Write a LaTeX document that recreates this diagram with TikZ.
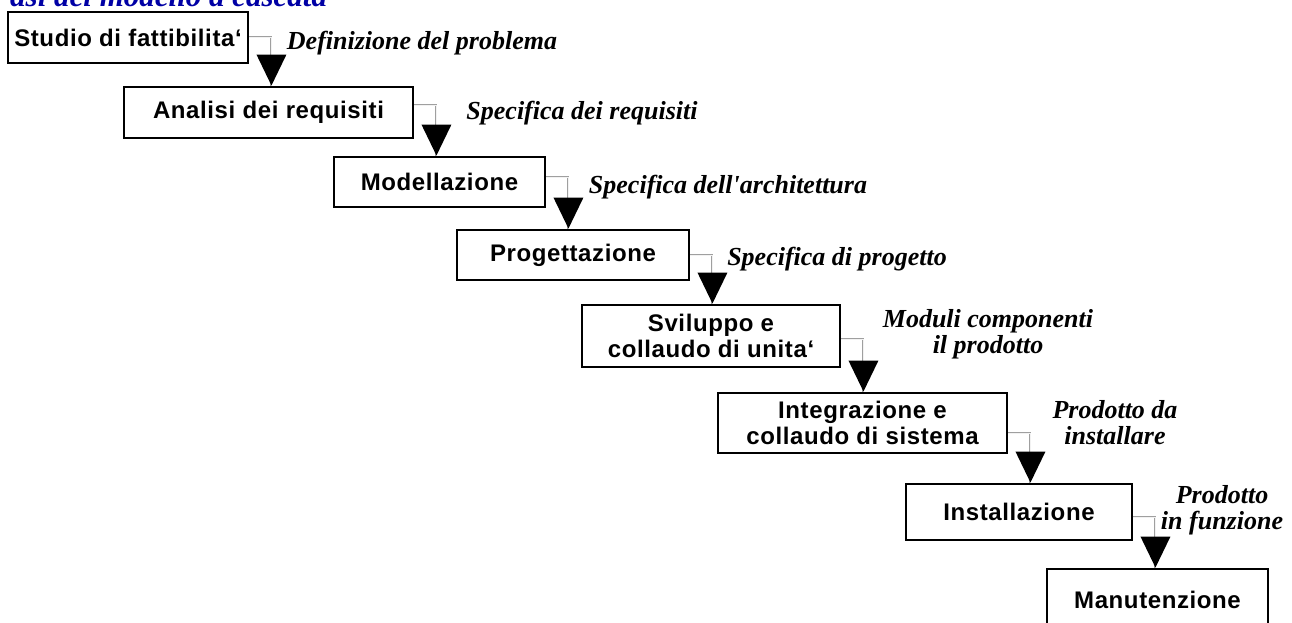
\documentclass[tikz,border=0pt]{standalone}
\usepackage{fontspec}
\setmainfont{Liberation Serif}
\newfontfamily\boxfamily{Liberation Sans}[LetterSpace=2.5]
\newfontfamily\labelfamily{Liberation Serif}
\usetikzlibrary{calc}
\definecolor{titleblue}{RGB}{0,0,165}
\begin{document}
\begin{tikzpicture}[x=1pt,y=-1pt,
  phase/.style={draw=black, line width=2.9pt, fill=white, inner sep=0pt, align=center,
    font=\boxfamily\bfseries\fontsize{24}{26}\selectfont},
  product/.style={inner sep=0pt, align=center,
    font=\labelfamily\bfseries\itshape\fontsize{26}{26}\selectfont},
  link/.style={draw=gray!75, line width=0.6pt, double=gray!10, double distance=0.8pt},
  tip/.style={fill=black}]
\useasboundingbox (0,0) rectangle (1292,623);
\clip (0,0) rectangle (1292,623);
\fill[white] (0,0) rectangle (1292,623);

% heading, partly above the top edge
\node[anchor=base west, inner sep=0pt, text=titleblue,
  font=\labelfamily\bfseries\itshape\fontsize{31}{31}\selectfont] (title) at (10,7) {asi del modello a cascata};

% the phases
\node[phase, minimum width=240pt, minimum height=51pt] (b1) at (128,37.5) {Studio di fattibilita‘};
\node[phase, minimum width=289pt, minimum height=51pt] (b2) at (268.5,112.5) {Analisi dei requisiti};
\node[phase, minimum width=211pt, minimum height=50pt] (b3) at (439.5,182) {Modellazione};
\node[phase, minimum width=232pt, minimum height=50pt] (b4) at (573,255) {Progettazione};
\node[phase, minimum width=258pt, minimum height=62pt] (b5) at (711,336) {Sviluppo e\\collaudo di unita‘};
\node[phase, minimum width=289pt, minimum height=60pt] (b6) at (862.5,423) {Integrazione e\\collaudo di sistema};
\node[phase, minimum width=226pt, minimum height=56pt] (b7) at (1019,512) {Installazione};
\node[phase, minimum width=221pt, minimum height=62pt] (b8) at (1157.5,600) {Manutenzione};

% what each phase hands on
\node[product] (p1) at (422,43) {Definizione del problema};
\node[product] (p2) at (582,113) {Specifica dei requisiti};
\node[product] (p3) at (728,187) {Specifica dell'architettura};
\node[product] (p4) at (837,259) {Specifica di progetto};
\node[product] (p5) at (988,334) {Moduli componenti\\il prodotto};
\node[product] (p6) at (1115,423) {Prodotto da\\installare};
\node[product] (p7) at (1222,510) {Prodotto\\in funzione};

% step-down connectors with their arrowheads
\foreach \a/\b/\dy in {b1/b2/0, b2/b3/7.5, b3/b4/5, b4/b5/0, b5/b6/-3, b6/b7/-10, b7/b8/-5}{
  \coordinate (tip-\a) at ([xshift=22pt]\a.east |- \b.north);
  \draw[link] ([yshift=\dy pt]\a.east) -| (tip-\a);
  \fill[tip] (tip-\a) -- ++(-15,-31) -- ++(30,0) -- cycle;
}
\end{tikzpicture}
\end{document}
